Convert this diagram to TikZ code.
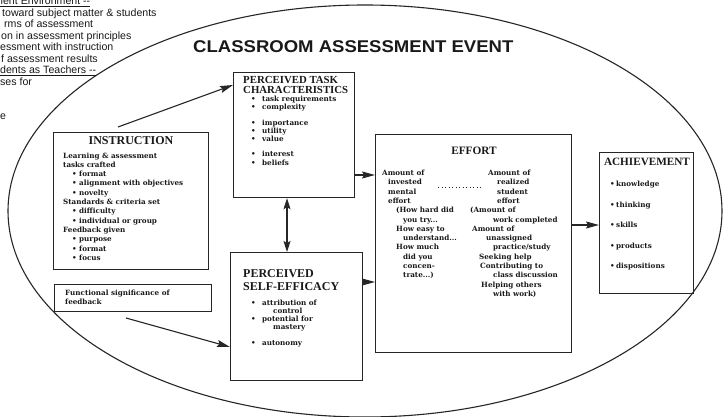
\documentclass[tikz,border=0pt]{standalone}
\usepackage{fontspec}
\setmainfont{DejaVu Serif}
\newfontfamily\headfont{Liberation Serif}
\newfontfamily\sansfam{Liberation Sans}
\usetikzlibrary{arrows.meta,shapes.geometric}
\newcounter{blc}
\newcommand{\bline}[3]{\stepcounter{blc}\node[body] (bl\arabic{blc}) at (#1,#2) {#3};}
\newcommand{\bitem}[4]{\stepcounter{blc}\node[body] (bb\arabic{blc}) at (#1,#3) {\textbullet};\node[body] (bl\arabic{blc}) at (#2,#3) {#4};}
\newcommand{\sline}[3]{\stepcounter{blc}\node[sans] (sl\arabic{blc}) at (#1,#2) {#3};}
\tikzset{
  body/.style={anchor=base west, inner sep=0pt, font=\bfseries\fontsize{7.2}{8}\selectfont, text=black!90},
  sans/.style={anchor=base west, inner sep=0pt, font=\sansfam\fontsize{10.6}{12}\selectfont, text=black!90},
  head/.style={inner sep=0pt, text=black!90},
  box/.style={draw=black!85, line width=1.2pt, rectangle, anchor=north west, inner sep=0pt},
  arr/.style={draw=black!85, line width=1.1pt, -{Stealth[length=13pt,width=7pt,inset=2pt]}},
  arrb/.style={draw=black!85, line width=1.1pt, {Stealth[length=11pt,width=7pt,inset=2pt]}-{Stealth[length=11pt,width=7pt,inset=2pt]}},
}
\begin{document}
\begin{tikzpicture}[x=1pt,y=-1pt]
\useasboundingbox (0,0) rectangle (723,417);
\clip (0,0) rectangle (723,417);
\fill[white] (0,0) rectangle (723,417);

% outer event ellipse
\node[draw=black!85, line width=1.1pt, ellipse, inner sep=0pt, minimum width=714pt, minimum height=412pt] (event) at (365,211) {};

% top-left cut-off text
\sline{-3}{5}{\underline{nent Environment --}}
\sline{2}{16.5}{toward subject matter \& students}
\sline{4}{28}{rms of assessment}
\sline{1}{39.5}{on in assessment principles}
\sline{0}{51}{essment with instruction}
\sline{1}{62.5}{f assessment results}
\sline{0}{74}{\underline{dents as Teachers --}}
\sline{0}{85.5}{ses for}
\sline{0}{119.5}{e}

% title
\node[head, anchor=base west, font=\sansfam\bfseries\fontsize{17}{20}\selectfont] (title) at (193,53) {\scalebox{1.09}[1]{CLASSROOM ASSESSMENT EVENT}};

% boxes
\node[box, minimum width=155pt, minimum height=137pt] (instr) at (53,132) {};
\node[box, minimum width=157pt, minimum height=27pt] (func) at (54,284) {};
\node[box, minimum width=121pt, minimum height=125pt] (task) at (233,72) {};
\node[box, minimum width=132pt, minimum height=128pt] (self) at (230,252) {};
\node[box, minimum width=196pt, minimum height=218pt] (effort) at (375,134) {};
\node[box, minimum width=94pt, minimum height=141pt] (ach) at (599,152) {};

% INSTRUCTION
\node[head, anchor=base, font=\headfont\bfseries\fontsize{12}{13}\selectfont] (hinstr) at (131,145) {INSTRUCTION};
\bline{63}{158}{Learning \& assessment}
\bline{63}{167.3}{tasks crafted}
\bitem{72}{79}{176.6}{format}
\bitem{72}{79}{185.9}{alignment with objectives}
\bitem{72}{79}{195.2}{novelty}
\bline{63}{204.5}{Standards \& criteria set}
\bitem{72}{79}{213.8}{difficulty}
\bitem{72}{79}{223.1}{individual or group}
\bline{63}{232.4}{Feedback given}
\bitem{72}{79}{241.7}{purpose}
\bitem{72}{79}{251}{format}
\bitem{72}{79}{260.3}{focus}

% functional significance
\bline{65}{295.5}{Functional significance of}
\bline{65}{304.5}{feedback}

% PERCEIVED TASK CHARACTERISTICS
\node[head, anchor=base west, font=\headfont\bfseries\fontsize{10.8}{11}\selectfont] (htask1) at (243,83.5) {PERCEIVED TASK};
\node[head, anchor=base west, font=\headfont\bfseries\fontsize{10.8}{11}\selectfont] (htask2) at (243,93.5) {CHARACTERISTICS};
\bitem{251}{262}{101.5}{task requirements}
\bitem{251}{262}{110}{complexity}
\bitem{251}{262}{126}{importance}
\bitem{251}{262}{134}{utility}
\bitem{251}{262}{142}{value}
\bitem{251}{262}{157}{interest}
\bitem{251}{262}{165}{beliefs}

% PERCEIVED SELF-EFFICACY
\node[head, anchor=base west, font=\headfont\bfseries\fontsize{12}{13}\selectfont] (hself1) at (243,277) {PERCEIVED};
\node[head, anchor=base west, font=\headfont\bfseries\fontsize{12}{13}\selectfont] (hself2) at (243,290) {SELF-EFFICACY};
\bitem{251}{262}{305.5}{attribution of}
\bline{273}{313.5}{control}
\bitem{251}{262}{321.5}{potential for}
\bline{273}{329.5}{mastery}
\bitem{251}{262}{345.5}{autonomy}

% EFFORT
\node[head, anchor=base, font=\headfont\bfseries\fontsize{11.3}{13}\selectfont] (heff) at (474,155) {EFFORT};
\bline{382}{175.5}{Amount of}
\bline{388}{184.8}{invested}
\bline{388}{194.1}{mental}
\bline{388}{203.4}{effort}
\bline{396}{212.7}{(How hard did}
\bline{403}{222}{you try...}
\bline{396}{231.3}{How easy to}
\bline{403}{240.6}{understand...}
\bline{396}{249.9}{How much}
\bline{403}{259.2}{did you}
\bline{403}{268.5}{concen-}
\bline{403}{277.8}{trate...)}
\bline{488}{175.5}{Amount of}
\bline{497}{184.8}{realized}
\bline{497}{194.1}{student}
\bline{497}{203.4}{effort}
\bline{470}{212.7}{(Amount of}
\bline{493}{222}{work completed}
\bline{472}{231.3}{Amount of}
\bline{486}{240.6}{unassigned}
\bline{493}{249.9}{practice/study}
\bline{479}{259.2}{Seeking help}
\bline{480}{268.5}{Contributing to}
\bline{493}{277.8}{class discussion}
\bline{481}{287.1}{Helping others}
\bline{493}{296.4}{with work)}
\coordinate (dotL) at (438,187);
\coordinate (dotR) at (483,187);
\draw[black!85, line width=0.9pt, dash pattern=on 1.2pt off 2.3pt] (dotL) -- (dotR);

% ACHIEVEMENT
\node[head, anchor=base, font=\headfont\bfseries\fontsize{11.2}{13}\selectfont] (hach) at (647,165) {ACHIEVEMENT};
\bitem{610}{616}{186.5}{knowledge}
\bitem{610}{616}{207.5}{thinking}
\bitem{610}{616}{227.5}{skills}
\bitem{610}{616}{248.5}{products}
\bitem{610}{616}{268.5}{dispositions}

% connectors
\coordinate (a1s) at (118,127);
\coordinate (a1e) at (233,85);
\draw[arr] (a1s) -- (a1e);
\coordinate (fs) at (126,318);
\coordinate (fe) at (230,347);
\draw[arr] (fs) -- (fe);
\coordinate (xv) at (287,0);
\draw[arrb] (task.south -| xv) -- (self.north -| xv);
\coordinate (y1) at (0,175);
\draw[arr] (task.east |- y1) -- (effort.west |- y1);
\coordinate (y2) at (0,282);
\draw[arr] (self.east |- y2) -- (effort.west |- y2);
\coordinate (y3) at (0,225);
\draw[arr] (effort.east |- y3) -- (ach.west |- y3);
\end{tikzpicture}
\end{document}
